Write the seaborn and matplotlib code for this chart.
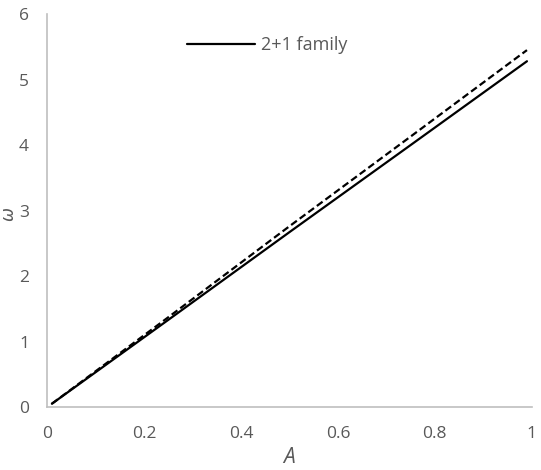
import matplotlib
matplotlib.use("Agg")
import matplotlib.pyplot as plt
import seaborn as sns
import pandas as pd

# Data
a_values = [0.01, 0.25, 0.5, 0.75, 0.99]
omega_family = [0.05, 1.33, 2.67, 4.00, 5.28]      # solid "2+1 family"
omega_dashed = [0.05, 1.37, 2.76, 4.13, 5.45]      # dashed reference line

xticks = [0, 0.2, 0.4, 0.6, 0.8, 1]
xtick_labels = ["0", "0.2", "0.4", "0.6", "0.8", "1"]
yticks = [0, 1, 2, 3, 4, 5, 6]

sns.set_style("white")
plt.rcParams['font.family'] = ['Open Sans', 'DejaVu Sans']

df_solid = pd.DataFrame({"A": a_values, "w": omega_family})
df_dash = pd.DataFrame({"A": a_values, "w": omega_dashed})

fig = plt.figure(figsize=(5.41, 4.70), dpi=100)
ax = fig.add_axes([0.0869, 0.134, 0.983 - 0.0869, 0.970 - 0.134])

sns.lineplot(data=df_solid, x="A", y="w", ax=ax, color="black", lw=1.6,
             label="2+1 family")
sns.lineplot(data=df_dash, x="A", y="w", ax=ax, color="black", lw=1.6,
             linestyle=(0, (3.2, 1.6)), label="_nolegend_")

ax.set_xlim(0, 1)
ax.set_ylim(0, 6)
ax.set_xticks(xticks)
ax.set_xticklabels(xtick_labels)
ax.set_yticks(yticks)
ax.tick_params(axis="both", length=0, labelsize=12.5, colors="#595959")
ax.tick_params(axis="x", pad=14)
ax.tick_params(axis="y", pad=13)

for s in ["top", "right"]:
    ax.spines[s].set_visible(False)
ax.spines["left"].set_color("#BFBFBF")
ax.spines["bottom"].set_color("#BFBFBF")
ax.spines["left"].set_linewidth(1.2)
ax.spines["bottom"].set_linewidth(1.2)

ax.set_xlabel("A", fontsize=15, color="#595959", style="italic", labelpad=3)
ax.set_ylabel("ω", fontsize=12, color="#595959", style="italic", va="center",
              family=["DejaVu Sans"])
ax.yaxis.set_label_coords(-0.078, 0.49)

leg = ax.legend(loc="upper left", bbox_to_anchor=(0.255, 0.985), frameon=False,
                fontsize=13, handlelength=3.8, handletextpad=0.3)
for t in leg.get_texts():
    t.set_color("#595959")

fig.savefig("out.png", dpi=100)
